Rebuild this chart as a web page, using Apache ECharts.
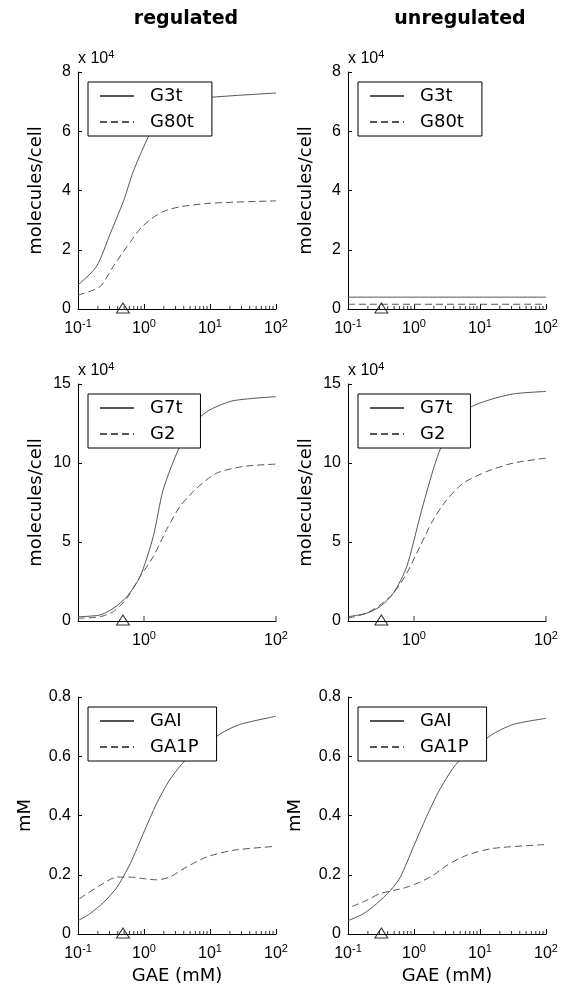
<!DOCTYPE html>
<html>
<head>
<meta charset="utf-8">
<script src="https://cdn.jsdelivr.net/npm/echarts@6/dist/echarts.min.js"></script>
<style>
html, body { margin: 0; padding: 0; background: #fff; }
#chart { width: 561px; height: 994px; }
</style>
</head>
<body>
<div id="chart"></div>
<script>
// GAE (mM) axis
var gaeMin = 0.1, gaeMax = 100;
var minorTicks = [0.2,0.3,0.4,0.5,0.6,0.7,0.8,0.9, 2,3,4,5,6,7,8,9, 20,30,40,50,60,70,80,90];
var row2Ticks = [1, 100];
var triReg = 0.48, triUnreg = 0.32;

// row 1 : G3t / G80t  (x 10^4 molecules/cell)
var g3tRegX  = [0.1, 0.19, 0.31, 0.49, 0.69, 1.1, 1.38, 2, 4, 9.7, 100];
var g3tRegY  = [0.81, 1.43, 2.56, 3.65, 4.65, 5.7, 6.1, 6.6, 7.0, 7.14, 7.29];
var g80tRegX = [0.1, 0.215, 0.34, 0.55, 0.87, 1.3, 2, 3.5, 10, 100];
var g80tRegY = [0.47, 0.75, 1.43, 2.1, 2.7, 3.05, 3.3, 3.45, 3.57, 3.65];
var g3tUnX   = [0.1, 100];
var g3tUnY   = [0.4, 0.4];
var g80tUnX  = [0.1, 100];
var g80tUnY  = [0.16, 0.16];

// row 2 : G7t / G2  (x 10^4 molecules/cell)
var g7tRegX = [0.1, 0.215, 0.343, 0.55, 0.87, 1.38, 1.95, 3.5, 6.6, 10, 22.4, 100];
var g7tRegY = [0.27, 0.38, 0.8, 1.54, 2.8, 5.34, 8.3, 11.05, 12.78, 13.37, 13.94, 14.2];
var g2RegX  = [0.1, 0.215, 0.343, 0.55, 0.87, 1.38, 2.19, 3.5, 6.3, 12.6, 31.6, 100];
var g2RegY  = [0.17, 0.27, 0.59, 1.44, 2.8, 4.07, 5.77, 7.24, 8.41, 9.36, 9.78, 9.93];
var g7tUnX  = [0.1, 0.19, 0.305, 0.486, 0.776, 1.23, 1.95, 2.75, 6.3, 12.6, 31.6, 100];
var g7tUnY  = [0.27, 0.49, 0.91, 1.75, 3.44, 6.6, 9.57, 11.26, 13.37, 13.94, 14.37, 14.53];
var g2UnX   = [0.1, 0.19, 0.305, 0.486, 0.776, 1.23, 1.95, 3.13, 5.6, 12.6, 31.6, 100];
var g2UnY   = [0.17, 0.49, 1.01, 1.75, 3.02, 4.71, 6.4, 7.67, 8.73, 9.46, 9.99, 10.31];

// row 3 : GAI / GA1P  (mM)
var gaiRegX  = [0.1, 0.15, 0.245, 0.39, 0.62, 0.98, 1.55, 2.45, 4.4, 14.5, 28, 100];
var gaiRegY  = [0.045, 0.068, 0.107, 0.158, 0.238, 0.34, 0.44, 0.52, 0.59, 0.676, 0.707, 0.735];
var ga1pRegX = [0.105, 0.215, 0.39, 0.62, 0.98, 1.55, 2.45, 4.4, 8.9, 23, 100];
var ga1pRegY = [0.119, 0.164, 0.192, 0.192, 0.187, 0.183, 0.192, 0.226, 0.26, 0.283, 0.296];
var gaiUnX   = [0.1, 0.17, 0.27, 0.44, 0.62, 0.98, 1.55, 2.45, 4.5, 14.5, 31.6, 100];
var gaiUnY   = [0.045, 0.068, 0.102, 0.147, 0.192, 0.294, 0.396, 0.487, 0.577, 0.67, 0.707, 0.728];
var ga1pUnX  = [0.115, 0.19, 0.3, 0.49, 0.78, 1.23, 1.95, 3.16, 6.3, 15.8, 100];
var ga1pUnY  = [0.093, 0.113, 0.136, 0.147, 0.158, 0.175, 0.198, 0.232, 0.266, 0.289, 0.302];

var lineColor = '#555';
var dash = [7, 4];

function zip(xs, ys) {
    return xs.map(function (x, i) { return [x, ys[i]]; });
}

var panels = [
    {left: 78,  top: 72,  yMax: 8,   yStep: 2,   yName: 'molecules/cell', names: ['G3t', 'G80t'], lines: [[g3tRegX, g3tRegY], [g80tRegX, g80tRegY]], tri: triReg,   row: 1},
    {left: 348, top: 72,  yMax: 8,   yStep: 2,   yName: 'molecules/cell', names: ['G3t', 'G80t'], lines: [[g3tUnX, g3tUnY], [g80tUnX, g80tUnY]],   tri: triUnreg, row: 1},
    {left: 78,  top: 384, yMax: 15,  yStep: 5,   yName: 'molecules/cell', names: ['G7t', 'G2'],   lines: [[g7tRegX, g7tRegY], [g2RegX, g2RegY]],     tri: triReg,   row: 2},
    {left: 348, top: 384, yMax: 15,  yStep: 5,   yName: 'molecules/cell', names: ['G7t', 'G2'],   lines: [[g7tUnX, g7tUnY], [g2UnX, g2UnY]],         tri: triUnreg, row: 2},
    {left: 78,  top: 697, yMax: 0.8, yStep: 0.2, yName: 'mM',             names: ['GAI', 'GA1P'], lines: [[gaiRegX, gaiRegY], [ga1pRegX, ga1pRegY]], tri: triReg,   row: 3},
    {left: 348, top: 697, yMax: 0.8, yStep: 0.2, yName: 'mM',             names: ['GAI', 'GA1P'], lines: [[gaiUnX, gaiUnY], [ga1pUnX, ga1pUnY]],     tri: triUnreg, row: 3}
];

var grids = [], xAxes = [], yAxes = [], series = [], legends = [];
var titles = [
    {text: 'regulated', left: 186, top: 10, padding: 0, textAlign: 'center',
     textStyle: {fontFamily: 'DejaVu Sans', fontSize: 19, fontWeight: 'bold', color: '#000'}},
    {text: 'unregulated', left: 460, top: 10, padding: 0, textAlign: 'center',
     textStyle: {fontFamily: 'DejaVu Sans', fontSize: 19, fontWeight: 'bold', color: '#000'}}
];

var supRich = {s: {fontFamily: 'Liberation Sans', fontSize: 11, lineHeight: 11, fontWeight: 'normal', verticalAlign: 'top', color: '#000'}};

panels.forEach(function (p, i) {
    grids.push({left: p.left, top: p.top, width: 198, height: 237});

    xAxes.push({
        type: 'log', logBase: 10, gridIndex: i, min: gaeMin, max: gaeMax, splitNumber: 3,
        name: p.row === 3 ? 'GAE (mM)' : '', nameLocation: 'middle', nameGap: 33,
        nameTextStyle: {fontFamily: 'DejaVu Sans', fontSize: 18, color: '#000'},
        axisLine: {lineStyle: {color: '#000', width: 1}},
        axisTick: {show: p.row !== 2, inside: true, length: 5, lineStyle: {color: '#000'}},
        splitLine: {show: false},
        axisLabel: {
            margin: 9, fontFamily: 'Liberation Sans', fontSize: 16, lineHeight: 22, color: '#000',
            rich: supRich,
            formatter: function (v) {
                var e = Math.round(Math.log(v) / Math.LN10);
                if (p.row === 2 && e !== 0 && e !== 2) return '';
                return '10{s|' + e + '}';
            }
        }
    });

    yAxes.push({
        type: 'value', gridIndex: i, min: 0, max: p.yMax, interval: p.yStep,
        name: p.yName, nameLocation: 'middle', nameRotate: 90, nameGap: p.row === 3 ? 44 : 33,
        nameTextStyle: {fontFamily: 'DejaVu Sans', fontSize: 18, color: '#000'},
        axisLine: {show: true, lineStyle: {color: '#000', width: 1}},
        axisTick: {show: true, inside: true, length: 4, lineStyle: {color: '#000'}},
        splitLine: {show: false},
        axisLabel: {margin: 7, fontFamily: 'Liberation Sans', fontSize: 16, color: '#000'}
    });

    if (p.row !== 3) {
        titles.push({
            text: 'x 10{s|4}', left: p.left, top: p.top - 23, padding: 0,
            textStyle: {fontFamily: 'Liberation Sans', fontSize: 16, fontWeight: 'normal', lineHeight: 20, color: '#000', rich: supRich}
        });
    }

    p.lines.forEach(function (ln, k) {
        series.push({
            name: p.names[k], type: 'line', xAxisIndex: i, yAxisIndex: i,
            data: zip(ln[0], ln[1]),
            symbol: 'none', showSymbol: false, smooth: 0.25, animation: false,
            lineStyle: {color: lineColor, width: 1, type: k === 0 ? 'solid' : dash},
            itemStyle: {color: lineColor}
        });
    });

    // minor ticks (rows 1, 3) and sparse major ticks (row 2)
    var tickVals = p.row === 2 ? row2Ticks : minorTicks;
    var tickLen = p.row === 2 ? 5 : 3;
    series.push({
        type: 'scatter', xAxisIndex: i, yAxisIndex: i, silent: true, animation: false,
        data: tickVals.map(function (x) { return [x, 0]; }),
        symbol: 'rect', symbolSize: [1, tickLen], symbolOffset: [0, -tickLen / 2],
        itemStyle: {color: '#000'}, z: 3
    });

    // triangle marker
    series.push({
        type: 'scatter', xAxisIndex: i, yAxisIndex: i, silent: true, animation: false,
        data: [[p.tri, 0]],
        symbol: 'triangle', symbolSize: [13, 10], symbolOffset: [0, -1],
        itemStyle: {color: 'rgba(0,0,0,0)', borderColor: '#000', borderWidth: 1}, z: 4
    });

    legends.push({
        orient: 'vertical', left: p.left + 10, top: p.top + 10, z: 10,
        padding: [5, 18, 5, 11], itemWidth: 34, itemHeight: 14, itemGap: 8,
        backgroundColor: '#fff', borderColor: '#000', borderWidth: 1, borderRadius: 0,
        selectedMode: false,
        itemStyle: {opacity: 0, borderWidth: 0},
        textStyle: {fontFamily: 'DejaVu Sans', fontSize: 18, color: '#000', padding: [0, 0, 0, 11]},
        data: p.names
    });
});

var chart = echarts.init(document.getElementById('chart'));
chart.setOption({
    backgroundColor: '#fff',
    animation: false,
    title: titles,
    grid: grids,
    xAxis: xAxes,
    yAxis: yAxes,
    legend: legends,
    series: series
});
</script>
</body>
</html>
